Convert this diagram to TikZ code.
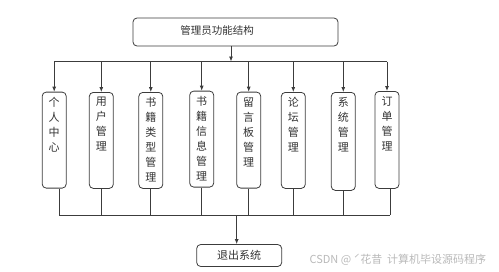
\documentclass[tikz,border=0pt]{standalone}
\usepackage{fontspec}
\usepackage{xcolor}
\usepackage{tikz}
\usetikzlibrary{arrows.meta, positioning, calc}
\newfontfamily\cjk{Noto Sans CJK SC}
\definecolor{linegray}{RGB}{60,60,60}
\definecolor{textgray}{RGB}{50,50,50}
\definecolor{markgray}{RGB}{185,185,185}
\tikzset{
  mybox/.style={
    draw=linegray,
    rounded corners=4pt,
    line width=0.8pt,
    inner sep=0pt,
    text=textgray,
    font=\cjk\fontsize{11}{15}\selectfont
  },
  topbox/.style={mybox, minimum width=205pt, minimum height=28pt},
  colbox/.style={mybox, minimum width=24pt, minimum height=96pt, anchor=north},
  vtext/.style={anchor=north, yshift=-5pt, align=center, inner sep=0pt,
    text=textgray, font=\cjk\fontsize{11}{15}\selectfont},
  exitbox/.style={mybox, minimum width=85pt, minimum height=22pt},
  arr/.style={-{Latex[length=5pt,width=4pt]}, line width=0.8pt, draw=linegray},
  ln/.style={line width=0.8pt, draw=linegray}
}

\begin{document}
\begin{tikzpicture}[x=1pt, y=-1pt]
\useasboundingbox (0,0) rectangle (499,271);

% Top box
\node[topbox] (admin) at (235.5,32) {};
\node[text=textgray, font=\cjk\fontsize{10.5}{12}\selectfont] (title) at (217,31) {管理员功能结构};

% Column boxes
\node[colbox, label={[vtext]north:{个\\人\\中\\心}}] (b1) at (54.2,91.7) {};
\node[colbox, label={[vtext]north:{用\\户\\管\\理}}] (b2) at (101.3,92) {};
\node[colbox, label={[vtext]north:{书\\籍\\类\\型\\管\\理}}] (b3) at (150.8,92) {};
\node[colbox, label={[vtext]north:{书\\籍\\信\\息\\管\\理}}] (b4) at (201.7,90.7) {};
\node[colbox, label={[vtext]north:{留\\言\\板\\管\\理}}] (b5) at (248.7,91.7) {};
\node[colbox, label={[vtext]north:{论\\坛\\管\\理}}] (b6) at (293.3,92) {};
\node[colbox, minimum height=98pt, label={[vtext]north:{系\\统\\管\\理}}] (b7) at (343.3,92) {};
\node[colbox, minimum height=97pt, label={[vtext]north:{订\\单\\管\\理}}] (b8) at (387,91) {};

% Exit box
\node[exitbox] (exit) at (239.2,255.5) {退出系统};

% Top bus
\coordinate (topleft) at (54.2,61.5);
\coordinate (topright) at (387,61.5);
\coordinate (topin) at (231,61.5);
\draw[ln] (topleft) -- (topright);
\draw[arr] (admin.south -| topin) -- (topin);
\foreach \b in {b1,b2,b3,b4,b5,b6,b7,b8}
  \draw[arr] (\b.north |- topin) -- (\b.north);

% Bottom bus
\coordinate (botleft) at (59.3,215);
\coordinate (botright) at (390,215);
\coordinate (botout) at (236.7,215);
\draw[ln] (botleft) -- (botright);
\draw[ln] ([xshift=5pt]b1.south) -- ([xshift=5pt]b1.south |- botleft);
\foreach \b in {b2,b3,b4,b5,b6,b7}
  \draw[ln] (\b.south) -- (\b.south |- botleft);
\draw[ln] ([xshift=3pt]b8.south) -- ([xshift=3pt]b8.south |- botleft);
\draw[arr] (botout) -- (botout |- exit.north);

% Watermark
\node[text=markgray, font=\cjk\fontsize{11}{12}\selectfont, anchor=west] (mark) at (306,260) {CSDN @ ˊ花昔\ \ 计算机毕设源码程序};

\end{tikzpicture}
\end{document}
